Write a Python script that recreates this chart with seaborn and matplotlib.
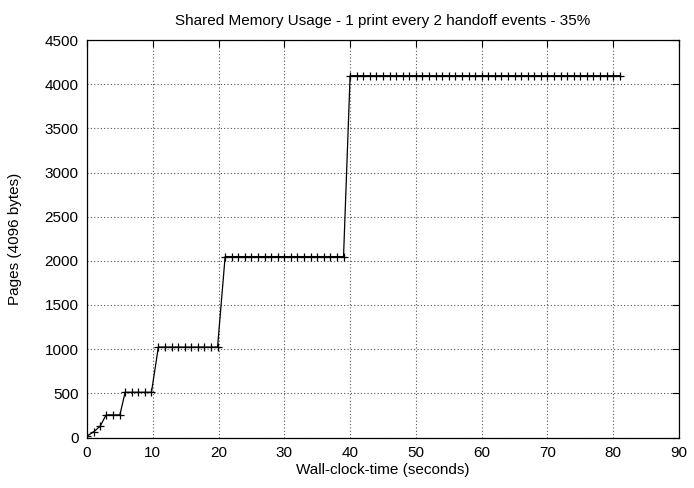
import matplotlib
matplotlib.use("Agg")
import matplotlib.pyplot as plt
import seaborn as sns
import pandas as pd

sns.set_theme(style="white")
plt.rcParams["font.family"] = ["Liberation Sans", "DejaVu Sans"]
plt.rcParams["text.color"] = "black"
plt.rcParams["axes.labelcolor"] = "black"
plt.rcParams["xtick.color"] = "black"
plt.rcParams["ytick.color"] = "black"

# wall-clock time (s) of each print
seconds = (
    [0.0, 1.0, 2.0, 2.9, 4.0, 5.0]
    + [5.8, 6.8, 7.8, 8.8, 9.8]
    + [10.85 + i for i in range(10)]
    + [21.0 + i for i in range(19)]
    + [40.0 + i for i in range(42)]
)
pages = (
    [16, 64, 128, 256, 256, 256]
    + [512] * 5
    + [1024] * 10
    + [2048] * 19
    + [4096] * 42
)

title = "Shared Memory Usage - 1 print every 2 handoff events - 35%"
x_label = "Wall-clock-time (seconds)"
y_label = "Pages (4096 bytes)"
x_ticks = list(range(0, 91, 10))
y_ticks = list(range(0, 4501, 500))


def main():
    df = pd.DataFrame({"t": seconds, "pages": pages})

    fig = plt.figure(figsize=(6.94, 4.88), dpi=100)
    ax = fig.add_axes([87 / 694, 1 - 437.5 / 488, 592 / 694, 397.5 / 488])

    sns.lineplot(
        data=df,
        x="t",
        y="pages",
        ax=ax,
        color="black",
        linewidth=0.9,
        marker="+",
        markersize=6,
        markeredgewidth=0.9,
        markeredgecolor="black",
        estimator=None,
        sort=False,
    )

    ax.set_xlim(0, 90)
    ax.set_ylim(0, 4500)
    ax.set_xticks(x_ticks)
    ax.set_yticks(y_ticks)
    ax.grid(True, color="#555555", linestyle=(0, (1, 2)), linewidth=0.8)
    ax.tick_params(
        direction="in", length=5, width=0.8, color="black",
        top=True, right=True, labelsize=11, pad=6,
    )
    for spine in ax.spines.values():
        spine.set_color("black")
        spine.set_linewidth(0.9)

    ax.set_xlabel(x_label, fontsize=11, labelpad=2)
    ax.set_ylabel(y_label, fontsize=11, labelpad=16)
    ax.set_title(title, fontsize=11, pad=11)

    fig.savefig("out.png", dpi=100)
    plt.close(fig)


if __name__ == "__main__":
    main()
